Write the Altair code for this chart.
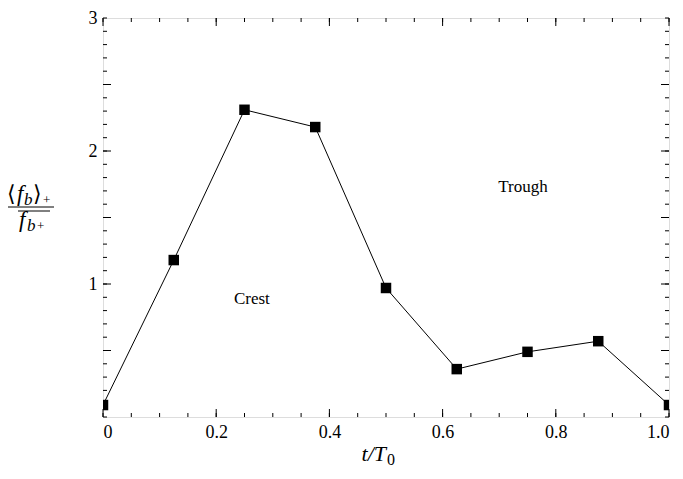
import altair as alt
import pandas as pd

# data
t_vals = [0.0, 0.125, 0.25, 0.375, 0.5, 0.625, 0.75, 0.875, 1.0]
f_vals = [0.09, 1.18, 2.31, 2.18, 0.97, 0.36, 0.49, 0.57, 0.09]
x_ticks = [0, 0.2, 0.4, 0.6, 0.8, 1.0]
y_ticks = [1, 2, 3]
x_minor = [round(0.05 * i, 2) for i in range(21)]
y_minor = [round(0.1 * i, 1) for i in range(31)]
y_major = [0.5, 1.0, 1.5, 2.0, 2.5]
annot_text = ["Crest", "Trough"]
annot_t = [0.263, 0.742]
annot_f = [0.89, 1.73]

W, H = 566, 399
FONT = "Liberation Serif"

df = pd.DataFrame({"t": t_vals, "f": f_vals})
xs = alt.Scale(domain=[0, 1], nice=False, zero=False)
ys = alt.Scale(domain=[0, 3], nice=False, zero=False)

base = alt.Chart(df)

line = base.mark_line(color="black", strokeWidth=1, clip=True).encode(
    x=alt.X("t:Q", scale=xs,
            axis=alt.Axis(values=x_ticks, ticks=False, domain=False, grid=False,
                          labelExpr="datum.value == 0 ? '0' : format(datum.value, '.1f')",
                          labelFont=FONT, labelFontSize=18, labelColor="black",
                          labelPadding=6, title=None)),
    y=alt.Y("f:Q", scale=ys,
            axis=alt.Axis(values=y_ticks, ticks=False, domain=False, grid=False,
                          format="d", labelFont=FONT, labelFontSize=18, labelColor="black",
                          labelPadding=6, title=None)),
)
pts = base.mark_square(color="black", size=110, opacity=1, clip=True).encode(
    x=alt.X("t:Q", scale=xs), y=alt.Y("f:Q", scale=ys)
)

annot = alt.Chart(pd.DataFrame({"t": annot_t, "f": annot_f, "s": annot_text})).mark_text(
    font=FONT, fontSize=17, color="black"
).encode(x=alt.X("t:Q", scale=xs), y=alt.Y("f:Q", scale=ys), text="s:N")

# inward ticks
xm = pd.DataFrame({"v": x_minor})
xM = pd.DataFrame({"v": x_ticks})
ym = pd.DataFrame({"v": y_minor})
yM = pd.DataFrame({"v": y_major})

def xt(d, L):
    b = alt.Chart(d).mark_rule(color="black", strokeWidth=1)
    return (b.encode(x=alt.X("v:Q", scale=xs), y=alt.value(H), y2=alt.value(H - L)) +
            b.encode(x=alt.X("v:Q", scale=xs), y=alt.value(0), y2=alt.value(L)))

def yt(d, L):
    b = alt.Chart(d).mark_rule(color="black", strokeWidth=1)
    return (b.encode(y=alt.Y("v:Q", scale=ys), x=alt.value(0), x2=alt.value(L)) +
            b.encode(y=alt.Y("v:Q", scale=ys), x=alt.value(W), x2=alt.value(W - L)))

ticks = xt(xm, 4) + xt(xM, 8) + yt(ym, 4) + yt(yM, 8)

one = pd.DataFrame({"a": [0]})
def txt(s, x, y, size=20, style="normal", align="left"):
    return alt.Chart(one).mark_text(text=s, font=FONT, fontSize=size, fontStyle=style,
                                    align=align, baseline="alphabetic", color="black").encode(
        x=alt.value(x), y=alt.value(y))

def hline(x1, x2, y):
    return alt.Chart(one).mark_rule(color="black", strokeWidth=1).encode(
        x=alt.value(x1), x2=alt.value(x2), y=alt.value(y))

OX, OY = 103, 18  # plot origin in page coords
title_layers = [
    txt("\u27e8", 7 - OX, 201 - OY, 22),
    txt("f", 17 - OX, 201 - OY, 23, "italic"),
    txt("b", 24 - OX, 205 - OY, 17, "italic"),
    txt("\u27e9", 33 - OX, 201 - OY, 22),
    txt("+", 43 - OX, 204 - OY, 13),
    hline(8 - OX, 54 - OX, 207 - OY),
    hline(18 - OX, 50 - OX, 211 - OY),
    txt("f", 19 - OX, 227 - OY, 23, "italic"),
    txt("b", 27 - OX, 231 - OY, 17, "italic"),
    txt("+", 37 - OX, 230 - OY, 13),
    txt("t/T", 386 - OX, 461 - OY, 22, "italic", "right"),
    txt("0", 387 - OX, 465 - OY, 16),
]

TOTAL_W, TOTAL_H = 666, 463
chart = alt.layer(ticks, line, pts, annot, *title_layers).properties(
    width=W, height=H,
    autosize=alt.AutoSizeParams(type="none"),
    padding={"left": OX - 8, "top": OY - 8,
             "right": TOTAL_W - (OX - 8) - W,
             "bottom": TOTAL_H - (OY - 8) - H},
).configure_view(stroke="black", strokeWidth=1).configure(background="white")

chart.save("out.html", embed_options={"renderer": "svg", "actions": False})
